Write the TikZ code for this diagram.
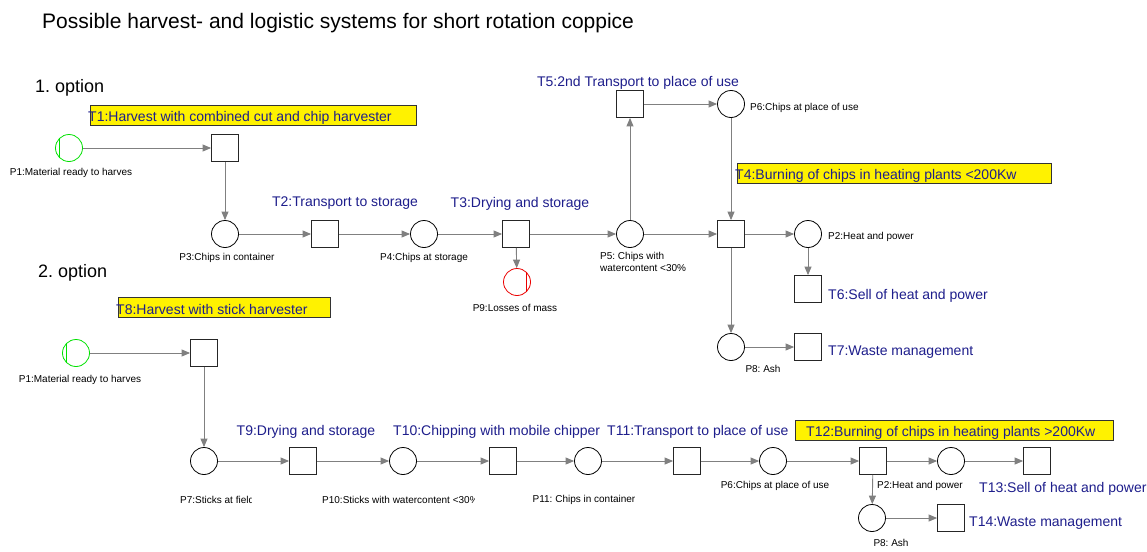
\documentclass[tikz,border=0pt]{standalone}
\usepackage{fontspec}
\setmainfont{Liberation Sans}
\usetikzlibrary{arrows.meta}
\definecolor{tnavy}{RGB}{30,30,140}
\definecolor{arcgray}{RGB}{128,128,128}
\definecolor{pgreen}{RGB}{0,225,0}
\definecolor{pred}{RGB}{235,0,0}
\begin{document}
\frenchspacing
\begin{tikzpicture}[x=1pt,y=-1pt,
  place/.style={circle,draw=black,line width=0.8pt,minimum size=27pt,inner sep=0pt},
  trans/.style={rectangle,draw=black!85,line width=0.8pt,minimum size=27pt,inner sep=0pt},
  arc/.style={draw=arcgray,line width=0.9pt,-{Triangle[length=8.5pt,width=7pt]}},
  tlab/.style={text=tnavy,font=\fontsize{14}{16}\selectfont,inner sep=0pt,yshift=-1.5pt},
  plab/.style={text=black,font=\fontsize{10}{12.5}\selectfont,inner sep=0pt,yshift=-1pt},
  ylab/.style={fill=yellow,draw=black!80,line width=0.6pt,inner sep=0pt},
  head/.style={text=black,font=\fontsize{18}{21}\selectfont,inner sep=0pt},
  titlefont/.style={text=black,font=\fontsize{21}{24}\selectfont,inner sep=0pt}]
\clip (0,0) rectangle (1147,551);
\fill[white] (0,0) rectangle (1147,551);

% headings
\node[titlefont,anchor=west] (title) at (42,23) {Possible harvest- and logistic systems for short rotation coppice};
\node[head,anchor=west] (opt1) at (35,88) {1. option};
\node[head,anchor=west] (opt2) at (38,273) {2. option};

% ---------- option 1 ----------
\node[ylab,minimum width=326pt,minimum height=20pt] (y1) at (253,115) {};
\node[tlab,anchor=west] (t1l) at (88,116) {T1:Harvest with combined cut and chip harvester};
\node[ylab,minimum width=314pt,minimum height=20pt] (y4) at (894,173) {};
\node[tlab,anchor=west] (t4l) at (735,174) {T4:Burning of chips in heating plants <200Kw};

\node[place,draw=pgreen] (p1a) at (69,148) {};
\draw[pgreen,line width=0.8pt] ([shift={(-9.5,-9.6)}]p1a.center) -- ([shift={(-9.5,9.6)}]p1a.center);
\node[trans] (t1) at (225,148) {};
\node[place] (p3) at (225,234) {};
\node[trans] (t2) at (325,234) {};
\node[place] (p4) at (424,234) {};
\node[trans] (t3) at (516,234) {};
\node[place,draw=pred] (p9) at (517,282) {};
\draw[pred,line width=0.8pt] ([shift={(9.5,-9.6)}]p9.center) -- ([shift={(9.5,9.6)}]p9.center);
\node[place] (p5) at (630,234) {};
\node[trans] (t5) at (630,104) {};
\node[place] (p6a) at (731,104) {};
\node[trans] (t4) at (731,234) {};
\node[place] (p2a) at (808,234) {};
\node[trans] (t6) at (808,289) {};
\node[place] (p8a) at (731,347) {};
\node[trans] (t7) at (808,347) {};

\node[plab] (p1al) at (71,172) {P1:Material ready to harves};
\node[plab] (p3l) at (227,257) {P3:Chips in container};
\node[plab] (p4l) at (424,257) {P4:Chips at storage};
\node[plab] (p9l) at (515,307) {P9:Losses of mass};
\node[plab,anchor=north west,align=left] (p5l) at (600,251) {P5: Chips with\\watercontent <30\%};
\node[plab,anchor=west] (p6al) at (750,107) {P6:Chips at place of use};
\node[plab,anchor=west] (p2al) at (828,236) {P2:Heat and power};
\node[plab] (p8al) at (763,368) {P8: Ash};

\node[tlab] (t2l) at (345,202) {T2:Transport to storage};
\node[tlab] (t3l) at (520,202) {T3:Drying and storage};
\node[tlab] (t5l) at (638,81) {T5:2nd Transport to place of use};
\node[tlab,anchor=west] (t6l) at (828,294) {T6:Sell of heat and power};
\node[tlab,anchor=west] (t7l) at (828,351) {T7:Waste management};

\draw[arc] (p1a) -- (t1);
\draw[arc] (t1) -- (p3);
\draw[arc] (p3) -- (t2);
\draw[arc] (t2) -- (p4);
\draw[arc] (p4) -- (t3);
\draw[arc] (t3) -- (p9);
\draw[arc] (t3) -- (p5);
\draw[arc] (p5) -- (t5);
\draw[arc] (t5) -- (p6a);
\draw[arc] (p6a) -- (t4);
\draw[arc] (p5) -- (t4);
\draw[arc] (t4) -- (p2a);
\draw[arc] (p2a) -- (t6);
\draw[arc] (t4) -- (p8a);
\draw[arc] (p8a) -- (t7);

% ---------- option 2 ----------
\node[ylab,minimum width=212pt,minimum height=20pt] (y8) at (224,307) {};
\node[tlab,anchor=west] (t8l) at (116,308) {T8:Harvest with stick harvester};
\node[ylab,minimum width=318pt,minimum height=20pt] (y12) at (954,430) {};
\node[tlab,anchor=west] (t12l) at (806,431) {T12:Burning of chips in heating plants >200Kw};

\node[place,draw=pgreen] (p1b) at (76,353) {};
\draw[pgreen,line width=0.8pt] ([shift={(-9.5,-9.6)}]p1b.center) -- ([shift={(-9.5,9.6)}]p1b.center);
\node[trans] (t8) at (204,353) {};
\node[place] (p7) at (204,461) {};
\node[trans] (t9) at (303,461) {};
\node[place] (p10) at (403,461) {};
\node[trans] (t10) at (503,461) {};
\node[place] (p11) at (588,461) {};
\node[trans] (t11) at (687,461) {};
\node[place] (p6b) at (773,461) {};
\node[trans] (t12) at (873,461) {};
\node[place] (p2b) at (951,461) {};
\node[trans] (t13) at (1037,461) {};
\node[place] (p8b) at (872,518) {};
\node[trans] (t14) at (951,518) {};

\node[plab] (p1bl) at (80,379) {P1:Material ready to harves};
\begin{scope}
\clip (170,490) rectangle (251,510);
\node[plab,anchor=west] (p7l) at (180,499) {P7:Sticks at field};
\end{scope}
\begin{scope}
\clip (310,490) rectangle (474,510);
\node[plab,anchor=west] (p10l) at (322,499) {P10:Sticks with watercontent <30\%};
\end{scope}
\node[plab] (p11l) at (584,499) {P11: Chips in container};
\node[plab] (p6bl) at (775,485) {P6:Chips at place of use};
\node[plab] (p2bl) at (920,485) {P2:Heat and power};
\node[plab] (p8bl) at (891,542) {P8: Ash};

\node[tlab] (t9l) at (306,430) {T9:Drying and storage};
\node[tlab,anchor=west] (t10l) at (393,430) {T10:Chipping with mobile chipper};
\node[tlab,anchor=west] (t11l) at (607,430) {T11:Transport to place of use};
\node[tlab,anchor=west] (t13l) at (979,487) {T13:Sell of heat and power};
\node[tlab,anchor=west] (t14l) at (969,522) {T14:Waste management};

\draw[arc] (p1b) -- (t8);
\draw[arc] (t8) -- (p7);
\draw[arc] (p7) -- (t9);
\draw[arc] (t9) -- (p10);
\draw[arc] (p10) -- (t10);
\draw[arc] (t10) -- (p11);
\draw[arc] (p11) -- (t11);
\draw[arc] (t11) -- (p6b);
\draw[arc] (p6b) -- (t12);
\draw[arc] (t12) -- (p2b);
\draw[arc] (p2b) -- (t13);
\draw[arc] (t12) -- (p8b);
\draw[arc] (p8b) -- (t14);
\end{tikzpicture}
\end{document}
